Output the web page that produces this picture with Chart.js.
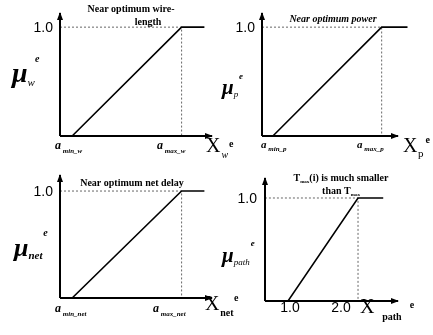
<!DOCTYPE html>
<html><head><meta charset="utf-8">
<script src="https://cdn.jsdelivr.net/npm/chart.js@4"></script>
<style>
html,body{margin:0;padding:0;background:#fff;}
#wrap{position:relative;width:433px;height:335px;background:#fff;}
canvas{position:absolute;left:0;top:0;}
</style></head><body>
<div id="wrap">
<canvas id="c1" width="433" height="335"></canvas>
<canvas id="c2" width="433" height="335"></canvas>
<canvas id="c3" width="433" height="335"></canvas>
<canvas id="c4" width="433" height="335"></canvas>
</div>
<script>
// ---- data (membership functions) ----
const wireX  = [0, 0.8, 8.0, 9.5];     // origin, a_min_w, a_max_w, end
const wireMu = [0, 0, 1, 1];
const powerX  = [0, 0.8, 8.8, 10.7];   // origin, a_min_p, a_max_p, end
const powerMu = [0, 0, 1, 1];
const delayX  = [0, 0.8, 8.0, 9.5];    // origin, a_min_net, a_max_net, end
const delayMu = [0, 0, 1, 1];
const pathX  = [0.67, 1.0, 2.0, 2.36]; // origin, 1.0, 2.0, end
const pathMu = [0, 0, 1, 1];
const pathTicks = [1.0, 2.0];
const pathTickLabels = ['1.0', '2.0'];
const muTick = 1.0;
const muTickLabel = '1.0';

const SERIF = '"Liberation Serif", "DejaVu Serif", serif';
const SANS = '"Liberation Sans", Arial, sans-serif';

function pts(xs, ys){ return xs.map((x,i)=>({x:x, y:ys[i]})); }

function rich(ctx, x, y, parts, align){
  let w = 0;
  parts.forEach(p=>{ ctx.font = p[1]; w += ctx.measureText(p[0]).width + (p[3]||0); });
  let cx = align==='center' ? x - w/2 : (align==='right' ? x - w : x);
  ctx.textBaseline = 'alphabetic'; ctx.textAlign = 'left';
  parts.forEach(p=>{ ctx.font = p[1]; ctx.fillText(p[0], cx, y + (p[2]||0)); cx += ctx.measureText(p[0]).width + (p[3]||0); });
}

function arrowLine(ctx, x1, y1, x2, y2){
  ctx.beginPath(); ctx.moveTo(x1,y1); ctx.lineTo(x2,y2); ctx.stroke();
  const a = Math.atan2(y2-y1, x2-x1), L = 7, W = 3;
  ctx.beginPath();
  ctx.moveTo(x2 + Math.cos(a)*1, y2 + Math.sin(a)*1);
  ctx.lineTo(x2 - Math.cos(a)*L - Math.sin(a)*W, y2 - Math.sin(a)*L + Math.cos(a)*W);
  ctx.lineTo(x2 - Math.cos(a)*L + Math.sin(a)*W, y2 - Math.sin(a)*L - Math.cos(a)*W);
  ctx.closePath(); ctx.fill();
}

function makePanel(id, xs, mus, frame, axisEnd, labels){
  const xMin = frame.xMin, xMax = frame.xMax;
  const aMaxIdx = 2;
  const plugin = {
    id: 'deco'+id,
    afterDatasetsDraw(chart){
      const ctx = chart.ctx, xs_ = chart.scales.x, ys_ = chart.scales.y;
      const x0 = xs_.getPixelForValue(xMin), y0 = ys_.getPixelForValue(0);
      ctx.save();
      ctx.strokeStyle = '#000'; ctx.fillStyle = '#000'; ctx.lineWidth = 2;
      arrowLine(ctx, x0, y0, x0, ys_.getPixelForValue(frame.yMax));
      arrowLine(ctx, x0, y0, xs_.getPixelForValue(axisEnd), y0);
      labels(ctx, xs_, ys_);
      ctx.restore();
    }
  };
  return new Chart(document.getElementById(id), {
    type: 'scatter',
    data: { datasets: [
      { data: pts(xs, mus), showLine: true, borderColor: '#000', borderWidth: 1.6, pointRadius: 0, clip: false, tension: 0 },
      { data: [{x: xs[0], y: muTick}, {x: xs[aMaxIdx], y: muTick}, {x: xs[aMaxIdx], y: 0}], showLine: true,
        borderColor: '#666', borderWidth: 1, borderDash: [2,2], pointRadius: 0, clip: false }
    ]},
    options: {
      responsive: false, animation: false, events: [],
      layout: { padding: { left: frame.left, right: 433 - frame.right, top: frame.top, bottom: 335 - frame.bottom } },
      plugins: { legend: { display: false }, tooltip: { enabled: false } },
      scales: {
        x: { type: 'linear', display: false, min: xMin, max: xMax },
        y: { type: 'linear', display: false, min: 0, max: frame.yMax }
      }
    },
    plugins: [plugin]
  });
}

const TB = 'bold 10px ' + SERIF;
const TBI = 'bold italic 10px ' + SERIF;
const TICKF = '14px ' + SANS;
const XF = '20px ' + SERIF;

// Panel 1: wire-length
makePanel('c1', wireX, wireMu, {xMin:0, xMax:10, left:60, right:212, top:13, bottom:136, yMax:1.13}, 10, (ctx, xs, ys)=>{
  rich(ctx, 131, 12, [['Near optimum wire-', TB]], 'center');
  rich(ctx, 148, 25, [['length', TB]], 'center');
  rich(ctx, 53, ys.getPixelForValue(muTick)+5, [[muTickLabel, TICKF]], 'right');
  rich(ctx, 12, 82, [['\u03bc', 'bold italic 28px '+SERIF], ['w', 'italic 11px '+SERIF, 4], ['e', 'bold italic 10px '+SERIF, -20]], 'left');
  rich(ctx, 55, 149, [['a', 'bold italic 12px '+SERIF], [' min_w', 'bold italic 7px '+SERIF, 4]], 'left');
  rich(ctx, 157, 149, [['a', 'bold italic 12px '+SERIF], [' max_w', 'bold italic 7px '+SERIF, 4]], 'left');
  rich(ctx, 206, 152, [['X', XF], [' ', '4px '+SERIF], ['w', 'italic 10px '+SERIF, 6, 1], ['e', 'bold 10px '+SERIF, -5]], 'left');
});

// Panel 2: power
makePanel('c2', powerX, powerMu, {xMin:0, xMax:10.7, left:262, right:407.5, top:13, bottom:136, yMax:1.13}, 10, (ctx, xs, ys)=>{
  rich(ctx, 333, 22, [['Near optimum power', TBI]], 'center');
  rich(ctx, 255, ys.getPixelForValue(muTick)+5, [[muTickLabel, TICKF]], 'right');
  rich(ctx, 222, 94, [['\u03bc', 'bold italic 21px '+SERIF], ['p', 'italic 9px '+SERIF, 3], [' ', '3px '+SERIF], ['e', 'bold italic 9px '+SERIF, -15]], 'left');
  rich(ctx, 261, 148, [['a', 'bold italic 11px '+SERIF], [' min_p', 'bold italic 7px '+SERIF, 3]], 'left');
  rich(ctx, 357, 148, [['a', 'bold italic 11px '+SERIF], [' max_p', 'bold italic 7px '+SERIF, 3]], 'left');
  rich(ctx, 403, 152, [['X', XF], [' ', '2px '+SERIF], ['p', '11px '+SERIF, 5, 2], ['e', 'bold 10px '+SERIF, -9]], 'left');
});

// Panel 3: net delay
makePanel('c3', delayX, delayMu, {xMin:0, xMax:10, left:60, right:212, top:175, bottom:298, yMax:1.15}, 10, (ctx, xs, ys)=>{
  rich(ctx, 132, 186, [['Near optimum net delay', TB]], 'center');
  rich(ctx, 53, ys.getPixelForValue(muTick)+5, [[muTickLabel, TICKF]], 'right');
  rich(ctx, 14, 256, [['\u03bc', 'bold italic 26px '+SERIF], ['net', 'bold italic 11px '+SERIF, 3], [' ', '3px '+SERIF], ['e', 'bold italic 10px '+SERIF, -20]], 'left');
  rich(ctx, 55, 312, [['a', 'bold italic 12px '+SERIF], [' min_net', 'bold italic 7px '+SERIF, 4]], 'left');
  rich(ctx, 153, 312, [['a', 'bold italic 12px '+SERIF], [' max_net', 'bold italic 7px '+SERIF, 4]], 'left');
  rich(ctx, 205, 310, [['X', XF], [' ', '3px '+SERIF], ['net', 'bold 10px '+SERIF, 6], [' ', '2px '+SERIF], ['e', 'bold 10px '+SERIF, -9]], 'left');
});

// Panel 4: path
makePanel('c4', pathX, pathMu, {xMin:0.671, xMax:2.571, left:265, right:398, top:178, bottom:301, yMax:1.194}, 2.571, (ctx, xs, ys)=>{
  rich(ctx, 341, 181, [['T', TB], ['max', 'bold 5px '+SERIF, 2], ['(i) is much smaller', TB]], 'center');
  rich(ctx, 341, 194, [['than T', TB], ['max', 'bold 5px '+SERIF, 2]], 'center');
  rich(ctx, 257, ys.getPixelForValue(muTick)+5, [[muTickLabel, TICKF]], 'right');
  rich(ctx, 222, 262, [['\u03bc', 'bold italic 21px '+SERIF], ['path', 'italic 9px '+SERIF, 3], [' ', '4px '+SERIF], ['e', 'bold italic 9px '+SERIF, -16]], 'left');
  pathTicks.forEach((t,i)=>{
    rich(ctx, xs.getPixelForValue(t) + (i===0 ? 2 : -17), 312, [[pathTickLabels[i], TICKF]], 'center');
  });
  rich(ctx, 360, 313, [['X', XF], [' ', '7px '+SERIF, 0, 6], ['path', 'bold 10px '+SERIF, 7, 8], ['e', 'bold 10px '+SERIF, -5]], 'left');
});
</script>
</body></html>
